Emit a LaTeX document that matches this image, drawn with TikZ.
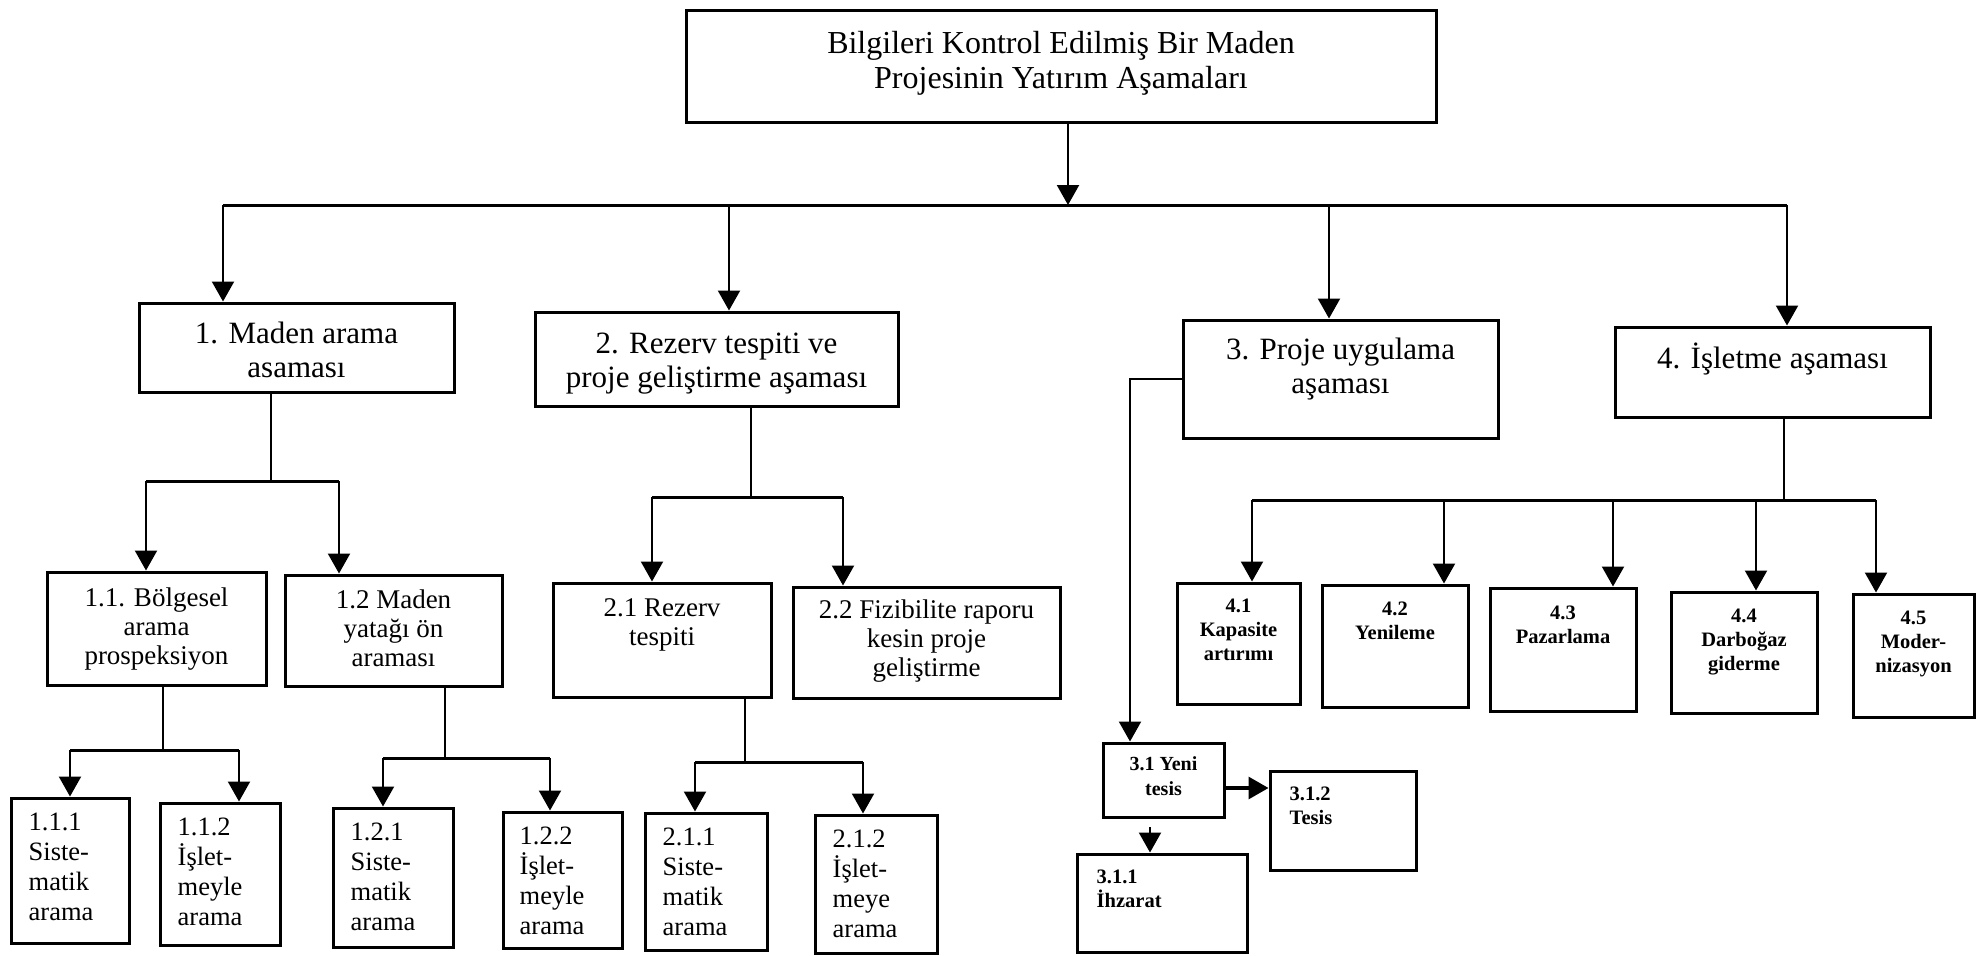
\documentclass[tikz,border=0pt]{standalone}
\usepackage{fontspec}
\setmainfont{Liberation Serif}
\usetikzlibrary{arrows.meta}

% box given by its corners: name, x1, y1, x2, y2 (y grows downward)
\newcommand\drawbox[5]{%
  \node[frame, minimum width={(#4-#2)*1pt}, minimum height={(#5-#3)*1pt}]
    (#1) at ({(#2+#4)/2},{(#3+#5)/2}) {};}
% fixes the height of a first text line
\newcommand\firstln{\rule{0pt}{0.95em}}

\begin{document}
\begin{tikzpicture}[x=1pt,y=-1pt,
  frame/.style={draw, line width=3pt, inner sep=0pt},
  link/.style={line width=2.2pt},
  bar/.style={line width=3pt},
  arr/.style={line width=2.2pt, -{Triangle[length=20pt,width=22pt]}},
  ttl/.style={font=\fontsize{32}{35}\selectfont, align=center, anchor=north, inner sep=0pt},
  lvA/.style={font=\fontsize{31}{34}\selectfont, align=center, anchor=north, inner sep=0pt},
  lvB/.style={font=\fontsize{27}{29}\selectfont, align=center, anchor=north, inner sep=0pt},
  leaf/.style={font=\fontsize{26.5}{30}\selectfont, align=left, anchor=north west, inner sep=0pt},
  smallc/.style={font=\bfseries\fontsize{20.5}{24}\selectfont, align=center, anchor=north, inner sep=0pt},
  midc/.style={font=\bfseries\fontsize{20}{25}\selectfont, align=center, anchor=north, inner sep=0pt},
  smalll/.style={font=\bfseries\fontsize{20.5}{24}\selectfont, align=left, anchor=north west, inner sep=0pt},
]
\useasboundingbox (0,0) rectangle (1987,956);

% ---- boxes ----
\drawbox{top}{686}{10}{1436}{122}
\drawbox{m1}{139}{303}{454}{392}
\drawbox{m2}{535}{312}{898}{406}
\drawbox{m3}{1183}{320}{1498}{438}
\drawbox{m4}{1615}{327}{1930}{417}
\drawbox{c11}{47}{572}{266}{685}
\drawbox{c12}{285}{575}{502}{686}
\drawbox{c21}{553}{583}{771}{697}
\drawbox{c22}{793}{587}{1060}{698}
\drawbox{l111}{11}{798}{129}{943}
\drawbox{l112}{160}{803}{280}{945}
\drawbox{l121}{333}{808}{453}{947}
\drawbox{l122}{503}{812}{622}{948}
\drawbox{l211}{645}{813}{767}{950}
\drawbox{l212}{815}{815}{937}{953}
\drawbox{c31}{1103}{743}{1224}{817}
\drawbox{c311}{1077}{854}{1247}{952}
\drawbox{c312}{1270}{771}{1416}{870}
\drawbox{b41}{1177}{583}{1300}{704}
\drawbox{b42}{1322}{585}{1468}{707}
\drawbox{b43}{1490}{588}{1636}{711}
\drawbox{b44}{1671}{592}{1817}{713}
\drawbox{b45}{1853}{594}{1974}{717}

% ---- texts ----
\node[ttl] (topt) at ([yshift=-14pt]top.north) {\firstln Bilgileri Kontrol Edilmiş Bir Maden\\Projesinin Yatırım Aşamaları};
\node[lvA] (m1t) at ([yshift=-12.5pt]m1.north) {\firstln 1. Maden arama\\asaması};
\node[lvA] (m2t) at ([yshift=-13.5pt]m2.north) {\firstln 2. Rezerv tespiti ve\\proje geliştirme aşaması};
\node[lvA] (m3t) at ([yshift=-11.5pt]m3.north) {\firstln 3. Proje uygulama\\aşaması};
\node[lvA] (m4t) at ([yshift=-13pt]m4.north) {\firstln 4. İşletme aşaması};

\node[lvB] (c11t) at ([yshift=-10.4pt]c11.north) {\firstln 1.1. Bölgesel\\arama\\prospeksiyon};
\node[lvB] (c12t) at ([yshift=-9.4pt]c12.north) {\firstln 1.2 Maden\\yatağı ön\\araması};
\node[lvB] (c21t) at ([yshift=-9.4pt]c21.north) {\firstln 2.1 Rezerv\\tespiti};
\node[lvB] (c22t) at ([yshift=-7.4pt]c22.north) {\firstln 2.2 Fizibilite raporu\\kesin proje\\geliştirme};

\node[leaf] (l111t) at ([xshift=19pt,yshift=-9pt]l111.north west) {\firstln 1.1.1\\Siste-\\matik\\arama};
\node[leaf] (l112t) at ([xshift=19pt,yshift=-9pt]l112.north west) {\firstln 1.1.2\\İşlet-\\meyle\\arama};
\node[leaf] (l121t) at ([xshift=19pt,yshift=-9pt]l121.north west) {\firstln 1.2.1\\Siste-\\matik\\arama};
\node[leaf] (l122t) at ([xshift=18pt,yshift=-9pt]l122.north west) {\firstln 1.2.2\\İşlet-\\meyle\\arama};
\node[leaf] (l211t) at ([xshift=19pt,yshift=-9pt]l211.north west) {\firstln 2.1.1\\Siste-\\matik\\arama};
\node[leaf] (l212t) at ([xshift=19pt,yshift=-9pt]l212.north west) {\firstln 2.1.2\\İşlet-\\meye\\arama};

\node[midc] (c31t) at ([yshift=-10pt]c31.north) {\firstln 3.1 Yeni\\tesis};
\node[smalll] (c311t) at ([xshift=21pt,yshift=-11.5pt]c311.north west) {\firstln 3.1.1\\İhzarat};
\node[smalll] (c312t) at ([xshift=21pt,yshift=-11.5pt]c312.north west) {\firstln 3.1.2\\Tesis};

\node[smallc] (b41t) at ([yshift=-11pt]b41.north) {\firstln 4.1\\Kapasite\\artırımı};
\node[smallc] (b42t) at ([yshift=-12pt]b42.north) {\firstln 4.2\\Yenileme};
\node[smallc] (b43t) at ([yshift=-13pt]b43.north) {\firstln 4.3\\Pazarlama};
\node[smallc] (b44t) at ([yshift=-12.5pt]b44.north) {\firstln 4.4\\Darboğaz\\giderme};
\node[smallc] (b45t) at ([yshift=-12.5pt]b45.north) {\firstln 4.5\\Moder-\\nizasyon};

% ---- main branching ----
\coordinate (j0) at (1068,205);
\draw[arr] (top.south -| j0) -- (j0);
\coordinate (b1) at (223,205);
\coordinate (b2) at (729,205);
\coordinate (b3) at (1329,205);
\coordinate (b4) at (1787,205);
\draw[bar] (b1) -- (b4);
\draw[arr] (b1) -- (b1 |- m1.north);
\draw[arr] (b2) -- (b2 |- m2.north);
\draw[arr] (b3) -- (b3 |- m3.north);
\draw[arr] (b4) -- (b4 |- m4.north);

% ---- stage 1 ----
\coordinate (s1) at (271,481);
\coordinate (s1a) at (146,481);
\coordinate (s1b) at (339,481);
\draw[link] (m1.south -| s1) -- (s1);
\draw[bar] (s1a) -- (s1b);
\draw[arr] (s1a) -- (s1a |- c11.north);
\draw[arr] (s1b) -- (s1b |- c12.north);

\coordinate (s11) at (163,750);
\coordinate (s11a) at (70,750);
\coordinate (s11b) at (239,750);
\draw[link] (c11.south -| s11) -- (s11);
\draw[bar] (s11a) -- (s11b);
\draw[arr] (s11a) -- (s11a |- l111.north);
\draw[arr] (s11b) -- (s11b |- l112.north);

\coordinate (s12) at (445,758);
\coordinate (s12a) at (383,758);
\coordinate (s12b) at (550,758);
\draw[link] (c12.south -| s12) -- (s12);
\draw[bar] (s12a) -- (s12b);
\draw[arr] (s12a) -- (s12a |- l121.north);
\draw[arr] (s12b) -- (s12b |- l122.north);

% ---- stage 2 ----
\coordinate (s2) at (751,497);
\coordinate (s2a) at (652,497);
\coordinate (s2b) at (843,497);
\draw[link] (m2.south -| s2) -- (s2);
\draw[bar] (s2a) -- (s2b);
\draw[arr] (s2a) -- (s2a |- c21.north);
\draw[arr] (s2b) -- (s2b |- c22.north);

\coordinate (s21) at (745,762);
\coordinate (s21a) at (695,762);
\coordinate (s21b) at (863,762);
\draw[link] (c21.south -| s21) -- (s21);
\draw[bar] (s21a) -- (s21b);
\draw[arr] (s21a) -- (s21a |- l211.north);
\draw[arr] (s21b) -- (s21b |- l212.north);

% ---- stage 3 ----
\coordinate (s3) at (1130,379);
\draw[arr] (m3.west) -- (s3) -- (s3 |- c31.north);
\draw[arr, line width=3.2pt] ([yshift=-8pt]c31.east) -- ([yshift=-8pt]c31.east -| c312.west);
\coordinate (d31) at (1150,827);
\draw[arr] (d31) -- (d31 |- c311.north);

% ---- stage 4 ----
\coordinate (s4) at (1784,500);
\coordinate (s4a) at (1252,500);
\coordinate (s4b) at (1444,500);
\coordinate (s4c) at (1613,500);
\coordinate (s4d) at (1756,500);
\coordinate (s4e) at (1876,500);
\draw[link] (m4.south -| s4) -- (s4);
\draw[bar] (s4a) -- (s4e);
\draw[arr] (s4a) -- (s4a |- b41.north);
\draw[arr] (s4b) -- (s4b |- b42.north);
\draw[arr] (s4c) -- (s4c |- b43.north);
\draw[arr] (s4d) -- (s4d |- b44.north);
\draw[arr] (s4e) -- (s4e |- b45.north);
\end{tikzpicture}
\end{document}
